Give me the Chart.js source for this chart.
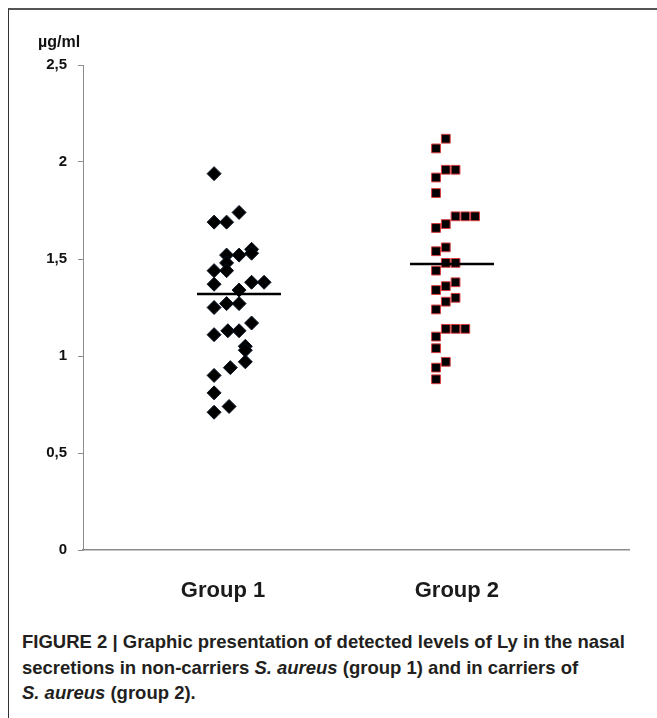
<!DOCTYPE html>
<html><head><meta charset="utf-8">
<script src="https://cdn.jsdelivr.net/npm/chart.js@4/dist/chart.umd.min.js"></script>
<style>
html,body{margin:0;padding:0;background:#fff;}
body{width:657px;height:718px;position:relative;overflow:hidden;font-family:"Liberation Sans",Arial,sans-serif;}
#frame{position:absolute;left:8px;top:8px;width:680px;height:740px;border-top:2px solid #555;border-left:1px solid #333;}
#wrap{position:absolute;left:0;top:0;width:657px;height:620px;}
#unit{position:absolute;left:38px;top:33px;font:bold 16px "Liberation Sans",Arial,sans-serif;color:#111;}
#caption{position:absolute;left:22px;top:629px;font:bold 18.5px/25.5px "Liberation Sans",Arial,sans-serif;color:#231f20;white-space:nowrap;}
</style></head><body>
<div id="frame"></div>
<div id="wrap"><canvas id="c"></canvas></div>
<div id="unit">µg/ml</div>
<div id="caption">FIGURE 2 | Graphic presentation of detected levels of Ly in the nasal<br>secretions in non-carriers <i>S. aureus</i> (group 1) and in carriers of<br><i>S. aureus</i> (group 2).</div>
<script>
// ---- data ----
const groups = ['Group 1', 'Group 2'];
const yTicks = [0, 0.5, 1, 1.5, 2, 2.5];
const group1Values = [1.94,1.69,1.69,1.74,1.55,1.53,1.52,1.52,1.48,1.44,1.44,1.37,1.34,1.38,1.38,1.25,1.27,1.27,1.11,1.13,1.13,1.17,1.05,1.03,0.97,0.94,0.90,0.81,0.71,0.74];
const group1Slots  = [0,0,1,2,3,3,2,1,1,0,1,0,2,3,4,0,1,2,0,1.1,2,3,2.5,2.5,2.5,1.3,0,0,0,1.2];
const group2Values = [2.12,2.07,1.96,1.96,1.92,1.84,1.72,1.72,1.72,1.68,1.66,1.56,1.54,1.48,1.48,1.44,1.34,1.36,1.38,1.24,1.28,1.30,1.14,1.14,1.14,1.10,1.04,0.97,0.94,0.88];
const group2Slots  = [1,0,1,2,0,0,2,3,4,1,0,1,0,1,2,0,0,1,2,0,1,2,1,2,3,0,0,1,0,0];
const groupMeans = [1.32, 1.474];

// ---- layout (not data) ----
const groupPos = [1, 2];
const slotOrigin = [-0.117, -0.075];
const slotStep = [0.0587, 0.0458];
const meanHalf = 0.197;
const labelPos = [0.925, 2.023];

function pts(vals, slots, g){
  return vals.map((v,i)=>({x: groupPos[g] + slotOrigin[g] + slots[i]*slotStep[g], y: v}));
}
function meanLine(g){
  return [{x: groupPos[g]-meanHalf, y: groupMeans[g]}, {x: groupPos[g]+meanHalf, y: groupMeans[g]}];
}

new Chart(document.getElementById('c'), {
  type: 'scatter',
  data: {
    datasets: [
      {type:'line', data: meanLine(0), borderColor:'#000', borderWidth:2.5, pointRadius:0, order:0},
      {type:'line', data: meanLine(1), borderColor:'#000', borderWidth:2.5, pointRadius:0, order:0},
      {data: pts(group1Values, group1Slots, 0), pointStyle:'rectRot', pointRadius:7, backgroundColor:'#000', borderColor:'#0b1626', borderWidth:1, order:1},
      {data: pts(group2Values, group2Slots, 1), pointStyle:'rect', pointRadius:6.2, backgroundColor:'#000', borderColor:'#d83a3c', borderWidth:1, order:1}
    ]
  },
  options: {
    responsive: true, maintainAspectRatio: false, animation: false,
    layout: {padding: {left: 0, right: 28, top: 65, bottom: 0}},
    plugins: {legend: {display:false}, tooltip: {enabled:false}},
    scales: {
      x: {
        type: 'linear', min: 0.2676, max: 2.831,
        grid: {display:false, drawTicks:false},
        border: {display:true, color:'#8c8c8c', width:1.5},
        afterBuildTicks: a => { a.ticks = labelPos.map(v=>({value:v})); },
        afterFit: a => { a.height = 70; },
        ticks: {
          autoSkip:false, maxRotation:0, padding: 28,
          color:'#1a1a1a', font:{family:'"Liberation Sans", Arial, sans-serif', size:22, weight:'bold'},
          callback: (v, i) => groups[i]
        }
      },
      y: {
        min: 0, max: 2.5,
        afterBuildTicks: a => { a.ticks = yTicks.map(v=>({value:v})); },
        afterFit: a => { a.width = 83; },
        grid: {drawOnChartArea:false, drawTicks:true, tickLength:5, color:'#8c8c8c', lineWidth:1},
        border: {display:true, color:'#8c8c8c', width:1},
        ticks: {
          padding: 11, color:'#111',
          font:{family:'"Liberation Sans", Arial, sans-serif', size:15, weight:'bold'},
          callback: v => String(v).replace('.', ',')
        }
      }
    }
  }
});
</script>
</body></html>
